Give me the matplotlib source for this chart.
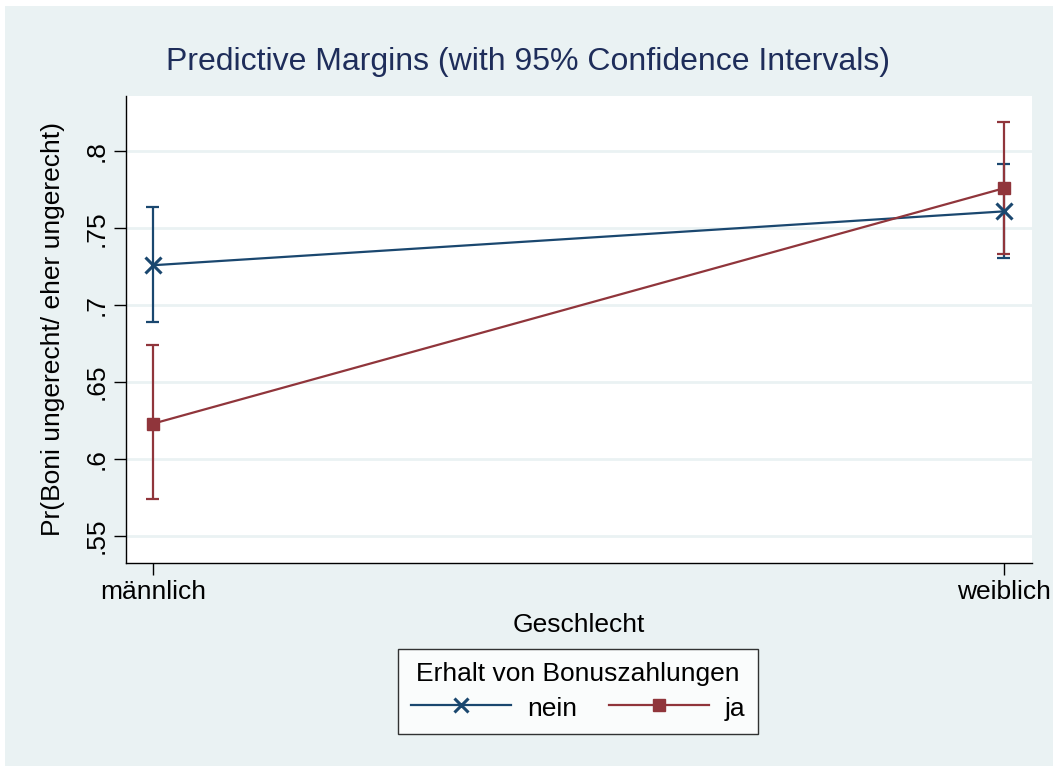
import matplotlib.pyplot as plt
from matplotlib.patches import Rectangle
from matplotlib.lines import Line2D

plt.rcParams['font.family'] = ['Liberation Sans', 'DejaVu Sans']

groups = ['männlich', 'weiblich']
x = [1, 2]
nein = [0.726, 0.761]
nein_lo = [0.689, 0.731]
nein_hi = [0.764, 0.792]
ja = [0.623, 0.776]
ja_lo = [0.574, 0.733]
ja_hi = [0.674, 0.819]
yticks = [0.55, 0.6, 0.65, 0.7, 0.75, 0.8]
ylabels = ['.55', '.6', '.65', '.7', '.75', '.8']

navy = '#1a476f'
maroon = '#90353b'
bg = '#eaf2f3'

fig = plt.figure(figsize=(10.53, 7.66), dpi=100, facecolor='white')
fig.patches.append(Rectangle((5 / 1053, 0), 1, 760 / 766, transform=fig.transFigure,
                             facecolor=bg, edgecolor='none', zorder=-10))

ax = fig.add_axes([0.1197, 0.265, 0.8604, 0.6097])
ax.set_facecolor('white')

# confidence intervals first, then connected lines
for lo, hi, c in [(nein_lo, nein_hi, navy), (ja_lo, ja_hi, maroon)]:
    ax.vlines(x, lo, hi, color=c, lw=1.6, zorder=3)
    ax.hlines(lo, [v - 0.0075 for v in x], [v + 0.0075 for v in x], color=c, lw=1.6, zorder=3)
    ax.hlines(hi, [v - 0.0075 for v in x], [v + 0.0075 for v in x], color=c, lw=1.6, zorder=3)

ax.plot(x, nein, color=navy, lw=1.6, marker='x', ms=11, mew=2.2, zorder=4, label='nein')
ax.plot(x, ja, color=maroon, lw=1.6, marker='s', ms=9, zorder=5, label='ja')

ax.set_xlim(0.9686, 2.0333)
ax.set_ylim(0.5325, 0.836)
ax.set_xticks(x)
ax.set_xticklabels(groups, fontsize=19)
ax.set_yticks(yticks)
ax.set_yticklabels(ylabels, fontsize=19, rotation=90, va='center')
ax.tick_params(length=8.5, width=1, direction='out', pad=4)
ax.grid(axis='y', color=bg, lw=2)
ax.set_axisbelow(True)
for s in ['top', 'right']:
    ax.spines[s].set_visible(False)
for s in ['left', 'bottom']:
    ax.spines[s].set_linewidth(1)

ax.set_xlabel('Geschlecht', fontsize=19, labelpad=6)
ax.set_ylabel('Pr(Boni ungerecht/ eher ungerecht)', fontsize=19, labelpad=14)

fig.text(0.5015, 0.919, 'Predictive Margins (with 95% Confidence Intervals)',
         ha='center', va='center', fontsize=23, color='#1e2d5a')

handles = [Line2D([], [], color=navy, lw=1.6, marker='x', ms=10, mew=2.2),
           Line2D([], [], color=maroon, lw=1.6, marker='s', ms=9)]
leg = fig.legend(handles, ['nein', 'ja'], ncol=2, loc='center',
                 bbox_to_anchor=(0.5489, 0.0975), title='Erhalt von Bonuszahlungen',
                 fontsize=19, title_fontsize=19, handlelength=3.8, handletextpad=0.6,
                 columnspacing=1.2, frameon=True, fancybox=False, borderpad=0.5,
                 handleheight=1.1, labelspacing=0.3)
leg.get_frame().set_edgecolor('black')
leg.get_frame().set_linewidth(1)
leg.get_frame().set_facecolor('white')

fig.savefig('out.png', dpi=100, facecolor=fig.get_facecolor())
